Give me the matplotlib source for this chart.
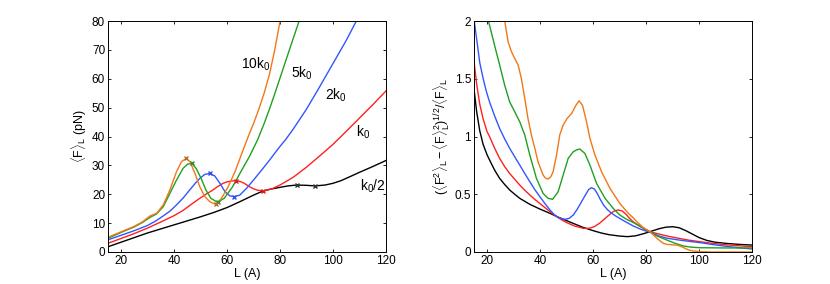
import matplotlib
matplotlib.use("Agg")
import matplotlib.pyplot as plt

plt.rcParams['font.family'] = ['Liberation Sans', 'DejaVu Sans']
plt.rcParams['mathtext.fontset'] = 'custom'
plt.rcParams['mathtext.rm'] = 'Liberation Sans'
plt.rcParams['mathtext.it'] = 'Liberation Sans'
plt.rcParams['mathtext.bf'] = 'Liberation Sans:bold'

# colours of the five stiffness values
c_half, c_1, c_2, c_5, c_10 = 'black', '#ff2020', '#3355ff', '#20a020', '#f07818'

# ---- left panel: <F>_L vs L ----
L_half = [15, 20, 25, 30, 35, 40, 45, 50, 55, 60, 65, 70, 73, 76, 80, 83, 86.3, 90, 93.2, 97, 100, 103, 106.4, 110, 115, 120]
F_half = [1.8, 3.4, 5.0, 6.6, 8.0, 9.4, 10.8, 12.2, 13.7, 15.4, 17.5, 19.7, 20.9, 21.7, 22.4, 22.9, 23.2, 23.1, 22.9, 23.2, 23.8, 24.7, 26.1, 27.6, 29.6, 31.7]

L_1 = [15, 20, 25, 30, 35, 40, 43.4, 46, 49.7, 52, 54.7, 56.5, 58.5, 60, 61.6, 63.5, 65, 66.5, 68.5, 70, 71.5, 73.4, 75, 77, 80, 85, 90, 95, 100, 105, 110, 115, 120]
F_1 = [3.0, 4.7, 6.4, 8.3, 10.4, 12.6, 14.4, 16.2, 18.6, 20.0, 21.5, 22.7, 23.8, 24.3, 24.6, 24.7, 24.4, 23.8, 22.6, 21.9, 21.4, 21.2, 21.4, 21.9, 23.2, 25.9, 29.4, 33.3, 37.3, 41.8, 46.4, 51.0, 55.8]

L_2 = [15, 20, 25, 30, 33, 35.9, 38.5, 40.9, 43.5, 45.9, 48, 49.7, 51.6, 53.5, 55.4, 57.3, 59.2, 61.1, 62.7, 64.8, 67.3, 70.5, 73.6, 76.1, 78, 80, 82, 85, 90, 95, 100, 105, 108.8]
F_2 = [4.2, 5.8, 7.4, 9.2, 10.7, 12.5, 14.2, 16.3, 18.8, 21.5, 23.8, 25.5, 26.9, 27.2, 26.3, 23.8, 20.9, 19.4, 19.2, 19.7, 22.0, 25.5, 29.0, 31.9, 34.2, 36.6, 38.8, 42.6, 49.5, 57.3, 65.3, 73.3, 80.0]

L_5 = [15, 20, 25, 28, 30.9, 33.4, 35.9, 38.4, 40.9, 43.4, 45.2, 46.7, 48.3, 50.2, 52, 53.9, 56.4, 58.9, 62.1, 65.2, 68.4, 71.5, 74, 76, 78, 80, 82, 84, 87.2]
F_5 = [4.7, 6.8, 8.7, 10.2, 12.0, 13.2, 15.7, 20.3, 24.9, 29.0, 30.5, 30.7, 29.0, 25.5, 21.5, 18.6, 17.2, 18.6, 22.6, 27.8, 33.0, 38.8, 44.5, 49.5, 54.8, 60.3, 65.8, 71.3, 80.0]

L_10 = [15, 20, 25, 28, 30.9, 33.4, 35.9, 38.4, 40.9, 42.8, 44.5, 46, 47.9, 49.7, 51.6, 53.5, 55.7, 57.9, 60.4, 63, 65.5, 68, 70, 72, 74, 76, 78, 80]
F_10 = [5.1, 7.0, 8.9, 10.4, 12.5, 13.4, 16.3, 21.5, 27.8, 31.3, 32.4, 31.3, 27.2, 22.6, 19.2, 17.4, 16.5, 18.6, 22.6, 27.8, 34.0, 40.0, 44.5, 49.5, 55.0, 61.5, 70.0, 80.0]

# extrema marked with crosses
mx_half, my_half = [86.3, 93.2], [23.2, 22.9]
mx_1, my_1 = [63.5, 73.4], [24.7, 21.2]
mx_2, my_2 = [53.5, 62.7], [27.2, 19.2]
mx_5, my_5 = [46.7, 56.4], [30.7, 17.2]
mx_10, my_10 = [44.5, 55.7], [32.4, 16.5]

# ---- right panel: relative fluctuation ----
R_L_half = [15, 16, 17.2, 18.5, 20, 20.9, 22.8, 24.7, 26.6, 28.5, 30.4, 32.3, 36.1, 39.9, 43.7, 47, 51, 56, 60, 63, 66, 70, 73, 76, 79, 82, 85, 87.5, 90, 92.5, 95, 97.5, 100, 103, 106, 110, 115, 120]
R_half = [1.42, 1.22, 1.05, 0.93, 0.84, 0.797, 0.71, 0.638, 0.585, 0.537, 0.50, 0.465, 0.413, 0.372, 0.335, 0.30, 0.262, 0.215, 0.185, 0.165, 0.15, 0.138, 0.133, 0.14, 0.158, 0.18, 0.202, 0.215, 0.219, 0.21, 0.185, 0.155, 0.125, 0.1, 0.085, 0.075, 0.066, 0.06]

R_L_1 = [15, 16, 17.2, 18.5, 20, 20.9, 22.8, 24.7, 26.6, 28.5, 30.4, 32.3, 34.2, 36.1, 38, 39.9, 41.8, 43.7, 46, 48, 50, 53, 56.3, 58.5, 60.5, 62.5, 64.5, 66.5, 68, 69.5, 71, 72.5, 74, 75.5, 77.5, 80, 82, 85, 88, 92, 96, 100.4, 105, 110, 115, 120]
R_1 = [1.66, 1.46, 1.28, 1.15, 1.04, 1.0, 0.9, 0.811, 0.74, 0.68, 0.63, 0.58, 0.535, 0.494, 0.455, 0.42, 0.385, 0.35, 0.31, 0.28, 0.255, 0.225, 0.205, 0.205, 0.22, 0.25, 0.29, 0.33, 0.355, 0.364, 0.355, 0.325, 0.285, 0.255, 0.225, 0.19, 0.172, 0.155, 0.138, 0.12, 0.103, 0.089, 0.075, 0.063, 0.054, 0.046]

R_L_2 = [15, 16, 17.2, 18.5, 19.7, 20.9, 22.8, 24.7, 26.6, 28.5, 30.4, 32.3, 34.2, 36.1, 38, 39.9, 41.8, 43.7, 45.5, 47, 48.5, 49.5, 51, 52.5, 54, 55.5, 57, 58.3, 59.4, 60.5, 61.5, 62.6, 64, 65.5, 67, 69, 72, 75.2, 78, 81.5, 85, 87.8, 92, 96, 100.4, 105, 110, 115, 120]
R_2 = [2.02, 1.85, 1.64, 1.5, 1.39, 1.30, 1.18, 1.07, 0.98, 0.898, 0.825, 0.753, 0.68, 0.609, 0.54, 0.479, 0.42, 0.364, 0.32, 0.298, 0.285, 0.283, 0.292, 0.32, 0.37, 0.43, 0.49, 0.54, 0.557, 0.545, 0.51, 0.46, 0.405, 0.365, 0.335, 0.305, 0.265, 0.225, 0.197, 0.17, 0.138, 0.12, 0.105, 0.093, 0.081, 0.065, 0.05, 0.037, 0.026]

R_L_5 = [20.2, 20.9, 22.8, 24.7, 26.6, 28.5, 30.4, 32.3, 34.2, 36.1, 38.6, 41.1, 43, 44.7, 46.8, 48.7, 50.6, 52.5, 53.8, 55, 56.9, 58.8, 61.3, 64.5, 67.6, 70.1, 72.5, 75.2, 78, 81.5, 84, 87.8, 91, 94.1, 97, 100.4, 110, 120]
R_5 = [2.02, 1.965, 1.79, 1.62, 1.446, 1.30, 1.215, 1.128, 1.013, 0.84, 0.638, 0.508, 0.465, 0.456, 0.522, 0.667, 0.811, 0.868, 0.885, 0.892, 0.854, 0.753, 0.595, 0.465, 0.378, 0.32, 0.285, 0.255, 0.22, 0.176, 0.14, 0.104, 0.075, 0.052, 0.042, 0.037, 0.035, 0.035]

R_L_10 = [26.5, 27.9, 29.2, 30.4, 31.7, 32.9, 34.2, 35.4, 36.7, 38.0, 39.2, 41.1, 42, 43.0, 44, 44.9, 46.2, 47.4, 48.7, 50.2, 51.9, 53.5, 54.7, 56.0, 57.5, 58.8, 60.7, 63.2, 66.4, 70.1, 73.3, 75, 76.5, 79, 81.5, 84, 86.5, 88, 89.7, 92, 94, 96, 98, 100.4, 105, 120]
R_10 = [2.02, 1.82, 1.734, 1.677, 1.619, 1.504, 1.33, 1.158, 1.013, 0.898, 0.782, 0.667, 0.64, 0.632, 0.65, 0.695, 0.84, 1.013, 1.10, 1.157, 1.2, 1.27, 1.31, 1.27, 1.13, 0.984, 0.84, 0.695, 0.55, 0.42, 0.335, 0.3, 0.262, 0.21, 0.176, 0.12, 0.075, 0.065, 0.063, 0.058, 0.04, 0.018, 0.008, 0.003, 0.0, 0.0]

fig = plt.figure(figsize=(8.3, 2.84), dpi=100)
ax1 = fig.add_axes([0.130, 0.1127, 0.335, 0.813])
ax2 = fig.add_axes([0.571, 0.1127, 0.335, 0.813])

lw = 1.0
ax1.plot(L_half, F_half, color=c_half, lw=lw)
ax1.plot(L_1, F_1, color=c_1, lw=lw)
ax1.plot(L_2, F_2, color=c_2, lw=lw)
ax1.plot(L_5, F_5, color=c_5, lw=lw)
ax1.plot(L_10, F_10, color=c_10, lw=lw)
for mx, my, col in [(mx_half, my_half, '#333333'), (mx_1, my_1, '#dd2020'), (mx_2, my_2, '#3050ee'),
                    (mx_5, my_5, '#30902a'), (mx_10, my_10, '#b07030')]:
    ax1.plot(mx, my, 'x', color=col, ms=3.5, mew=1.0)

ax1.text(71, 65, '10k$_0$', fontsize=10, ha='center', va='center')
ax1.text(88.2, 62, '5k$_0$', fontsize=10, ha='center', va='center')
ax1.text(101.2, 54.4, '2k$_0$', fontsize=10, ha='center', va='center')
ax1.text(111.4, 41.4, 'k$_0$', fontsize=10, ha='center', va='center')
ax1.text(115, 22.9, 'k$_0$/2', fontsize=10, ha='center', va='center')

ax1.set_xlim(15, 120)
ax1.set_ylim(0, 80)
ax1.set_xticks([20, 40, 60, 80, 100, 120])
ax1.set_yticks(range(0, 81, 10))
ax1.set_xlabel('L (A)', fontsize=9, labelpad=1)
ax1.set_ylabel(r'$\langle$F$\rangle_L$ (pN)', fontsize=9, labelpad=2)

ax2.plot(R_L_half, R_half, color=c_half, lw=lw)
ax2.plot(R_L_1, R_1, color=c_1, lw=lw)
ax2.plot(R_L_2, R_2, color=c_2, lw=lw)
ax2.plot(R_L_5, R_5, color=c_5, lw=lw)
ax2.plot(R_L_10, R_10, color=c_10, lw=lw)
ax2.set_xlim(15, 120)
ax2.set_ylim(0, 2)
ax2.set_xticks([20, 40, 60, 80, 100, 120])
ax2.set_yticks([0, 0.5, 1, 1.5, 2])
ax2.set_yticklabels(['0', '0.5', '1', '1.5', '2'])
ax2.set_xlabel('L (A)', fontsize=9, labelpad=1)
ax2.set_ylabel(r'$(\langle$F$^2\rangle_L - \langle$F$\rangle_L^2)^{1/2}/\langle$F$\rangle_L$', fontsize=9, labelpad=2)

for ax in (ax1, ax2):
    ax.tick_params(direction='in', top=True, right=True, length=2.5, width=0.6, labelsize=8.5, pad=2)
    for s in ax.spines.values():
        s.set_linewidth(0.7)

fig.savefig('out.png', dpi=100)
